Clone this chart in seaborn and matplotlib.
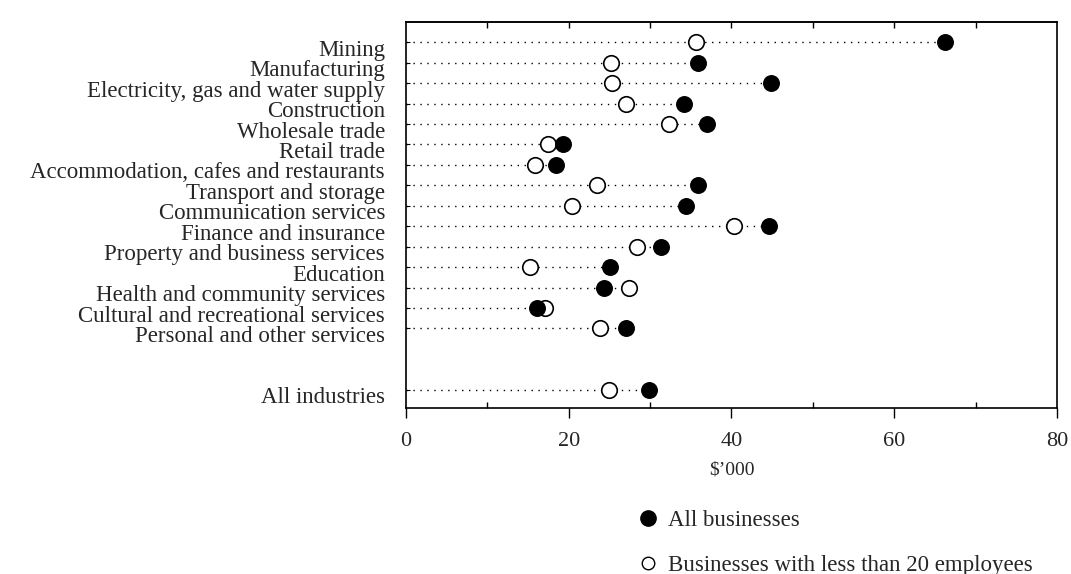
import matplotlib

matplotlib.use("Agg")
import matplotlib.pyplot as plt
import matplotlib.transforms as mtransforms
from matplotlib.lines import Line2D
import numpy as np
import pandas as pd
import seaborn as sns

# --- data ($'000 per employee) ---
industries = [
    "Mining",
    "Manufacturing",
    "Electricity, gas and water supply",
    "Construction",
    "Wholesale trade",
    "Retail trade",
    "Accommodation, cafes and restaurants",
    "Transport and storage",
    "Communication services",
    "Finance and insurance",
    "Property and business services",
    "Education",
    "Health and community services",
    "Cultural and recreational services",
    "Personal and other services",
    "All industries",
]
all_businesses = [66.2, 35.9, 44.8, 34.2, 37.0, 19.3, 18.5, 35.9, 34.4, 44.6,
                  31.3, 25.1, 24.3, 16.1, 27.0, 29.9]
small_businesses = [35.7, 25.2, 25.3, 27.1, 32.3, 17.4, 15.8, 23.5, 20.4, 40.3,
                    28.4, 15.2, 27.4, 17.1, 23.9, 24.9]
row_pos = list(range(15)) + [17]

SERIF = ["Liberation Serif", "DejaVu Serif"]


def main():
    sns.set_theme(style="ticks")
    plt.rcParams["font.family"] = SERIF

    df = pd.DataFrame({
        "industry": industries,
        "pos": row_pos,
        "all": all_businesses,
        "small": small_businesses,
    })

    fig = plt.figure(figsize=(10.71, 5.74), dpi=100, facecolor="white")
    ax = fig.add_axes([0.379, 0.289, 0.608, 0.673])

    # dotted guide from the axis to the furthest marker on each row
    ax.hlines(df["pos"], 0, df[["all", "small"]].max(axis=1),
              colors="black", linestyles=(0, (1, 4)), linewidth=1.0, zorder=1)

    sns.scatterplot(data=df, x="small", y="pos", ax=ax, s=125, marker="o",
                    color="white", edgecolor="black", linewidth=1.2, zorder=3)
    sns.scatterplot(data=df, x="all", y="pos", ax=ax, s=125, marker="o",
                    color="black", edgecolor="black", linewidth=1.0, zorder=4)

    ax.set_xlim(0, 80)
    ax.set_ylim(17.9, -1.0)
    ax.set_xticks([0, 20, 40, 60, 80])
    ax.set_xticks([10, 30, 50, 70], minor=True)
    ax.set_xticklabels(["0", "20", "40", "60", "80"], fontsize=16)
    ax.set_yticks(df["pos"])
    ax.set_yticklabels(df["industry"], fontsize=16.5)
    ax.set_xlabel("$\u2019000", fontsize=14, labelpad=8)
    ax.set_ylabel("")

    ax.tick_params(axis="x", which="major", direction="out", length=7, width=1.0,
                   pad=10, color="black")
    ax.tick_params(axis="x", which="minor", direction="in", length=4, width=1.0,
                   color="black")
    ax.tick_params(axis="y", direction="in", length=3, width=0.8, pad=15,
                   color="black")
    for spine in ax.spines.values():
        spine.set_visible(True)
        spine.set_color("black")
        spine.set_linewidth(1.2)

    # small inward ticks along the top edge
    top = ax.secondary_xaxis("top")
    top.set_xticks([10, 20, 30, 40, 50, 60, 70])
    top.tick_params(direction="in", length=4, width=1.0, labeltop=False, color="black")

    # labels sit slightly below the row in the print
    shift = mtransforms.ScaledTranslation(0, -4 / 72, fig.dpi_scale_trans)
    for lab in ax.get_yticklabels():
        lab.set_transform(lab.get_transform() + shift)

    handles = [
        Line2D([], [], marker="o", linestyle="none", markersize=11,
               markerfacecolor="black", markeredgecolor="black"),
        Line2D([], [], marker="o", linestyle="none", markersize=9,
               markerfacecolor="white", markeredgecolor="black", markeredgewidth=1.0),
    ]
    fig.legend(handles, ["All businesses", "Businesses with less than 20 employees"],
               loc="upper left", bbox_to_anchor=(0.594, 0.112), frameon=False,
               fontsize=16.5, labelspacing=1.05, handletextpad=0.4, handlelength=1.0,
               borderaxespad=0, borderpad=0)

    fig.savefig("out.png", dpi=100, facecolor="white")
    plt.close(fig)


if __name__ == "__main__":
    main()
